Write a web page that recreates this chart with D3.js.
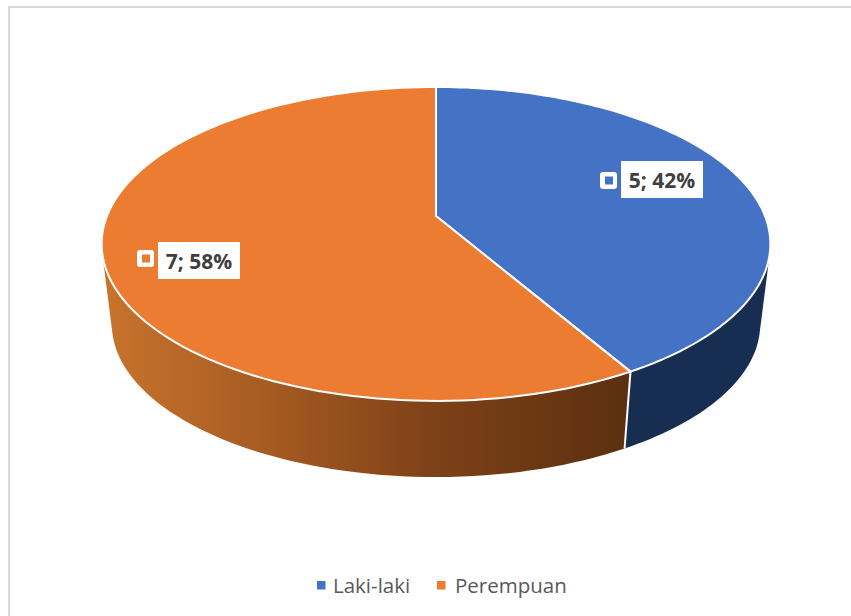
<!DOCTYPE html>
<html><head><meta charset="utf-8">
<script src="https://cdn.jsdelivr.net/npm/d3@7"></script>
<style>html,body{margin:0;background:#fff}svg{display:block}</style>
</head><body><svg id="c" width="851" height="616"></svg>
<script>
const categories = ["Laki-laki", "Perempuan"];
const values = [5, 7];
const percentLabels = ["42%", "58%"];
const colors = ["#4472c4", "#eb7c31"];
const sideStops = [
  [["#182d52", 0], ["#182d52", 1]],
  [["#c8732d", 0], ["#a85c22", 0.3], ["#7f4218", 0.62], ["#5c3010", 1]]
];

const svg = d3.select("#c");
svg.append("path").attr("d", "M9,616V7H851").attr("fill", "none").attr("stroke", "#d9d9d9").attr("stroke-width", 2);

const pie = d3.pie().sort(null).value(d => d);
const arcs = pie(values);

// perspective-projected disc
const project = (disc, t) => {
  const u = Math.sin(t), v = -Math.cos(t), w = 1 + disc.k * v;
  return [disc.cx + disc.A * u / w, disc.y0 + disc.B * v / w];
};
const topDisc = {cx: 436, y0: 216, A: 329, B: 152, k: -0.178};
const lowDisc = {cx: 436, y0: 297, A: 319, B: 148, k: -0.178};
const line = d3.line();
const sweep = (disc, a, b) => d3.range(0, 121).map(i => project(disc, a + (b - a) * i / 120));

const defs = svg.append("defs");
sideStops.forEach((stops, i) => {
  const g = defs.append("linearGradient").attr("id", "side" + i)
    .attr("gradientUnits", "userSpaceOnUse").attr("x1", 105).attr("x2", 625).attr("y1", 0).attr("y2", 0);
  stops.forEach(s => g.append("stop").attr("offset", s[1]).attr("stop-color", s[0]));
});

// side walls: convex hull of the upper and lower rims of each slice (later faces hide the rest)
arcs.forEach((d, i) => {
  const hull = d3.polygonHull(sweep(topDisc, d.startAngle, d.endAngle).concat(sweep(lowDisc, d.startAngle, d.endAngle)));
  svg.append("path").attr("d", line(hull) + "Z").attr("fill", `url(#side${i})`);
});
// wall seam at the slice boundary
const seamA = project(topDisc, arcs[0].endAngle), seamB = project(lowDisc, arcs[0].endAngle);
svg.append("path").attr("d", line([seamA, seamB])).attr("stroke", "#fff").attr("stroke-width", 2).attr("fill", "none");

// top faces
const centre = [topDisc.cx, topDisc.y0];
arcs.forEach((d, i) => {
  const pts = [centre].concat(sweep(topDisc, d.startAngle, d.endAngle));
  svg.append("path").attr("d", line(pts) + "Z").attr("fill", colors[i])
    .attr("stroke", "#fff").attr("stroke-width", 2).attr("stroke-linejoin", "round");
});

// data labels
const labelBoxes = [{x: 621, y: 161, w: 82, h: 37}, {x: 158, y: 242, w: 82, h: 37}];
const markers = [{x: 600, y: 172}, {x: 137, y: 250}];
const font = "'Open Sans', sans-serif";
arcs.forEach((d, i) => {
  const b = labelBoxes[i], m = markers[i];
  svg.append("rect").attr("x", b.x).attr("y", b.y).attr("width", b.w).attr("height", b.h).attr("fill", "#fff");
  svg.append("text").attr("x", b.x + b.w / 2).attr("y", b.y + 27).attr("text-anchor", "middle")
    .attr("font-family", font).attr("font-weight", 700).attr("font-size", 21).attr("fill", "#404040")
    .text(`${values[i]}; ${percentLabels[i]}`);
  svg.append("rect").attr("x", m.x).attr("y", m.y).attr("width", 17).attr("height", 17).attr("rx", 3).attr("fill", "#fff");
  svg.append("rect").attr("x", m.x + 5).attr("y", m.y + 4.5).attr("width", 8).attr("height", 8).attr("fill", colors[i]);
});

// legend
const legendX = [317, 437], legendTextX = [333, 455];
categories.forEach((c, i) => {
  svg.append("rect").attr("x", legendX[i]).attr("y", 581).attr("width", 8.5).attr("height", 8.5).attr("fill", colors[i]);
  svg.append("text").attr("x", legendTextX[i]).attr("y", 593).attr("font-family", font)
    .attr("font-size", 20.5).attr("fill", "#595959").text(c);
});
</script></body></html>
